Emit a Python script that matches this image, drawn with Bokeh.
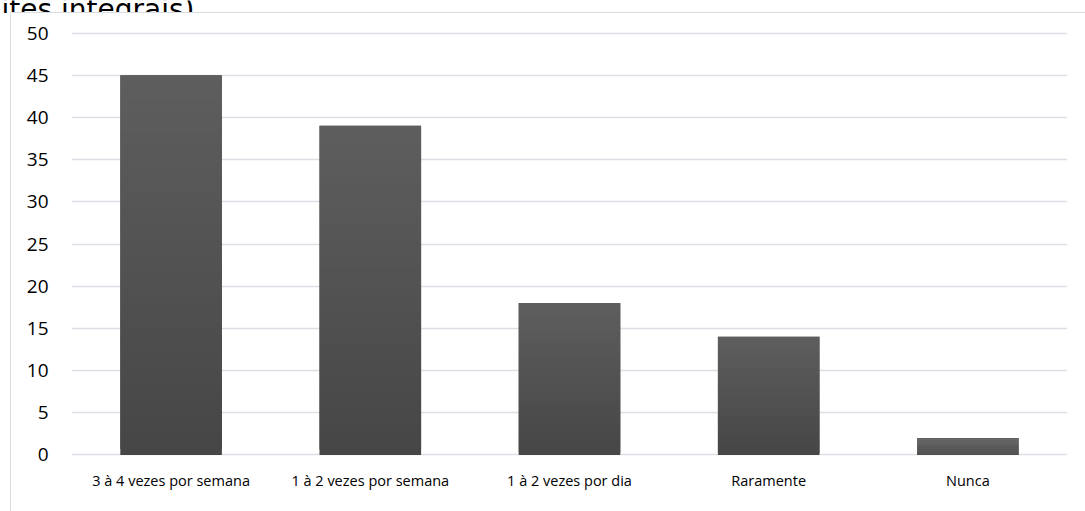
from bokeh.plotting import figure
from bokeh.models import Range1d, FixedTicker
from bokeh.core.properties import value
from bokeh.layouts import column, row
from bokeh.embed import file_html
from bokeh.resources import INLINE

categories = ["3 à 4 vezes por semana", "1 à 2 vezes por semana", "1 à 2 vezes por dia", "Raramente", "Nunca"]
values = [45, 39, 18, 14, 2]
y_ticks = [0, 5, 10, 15, 20, 25, 30, 35, 40, 45, 50]
doc_text = ["ites integrais)."]

W, H = 1085, 511
TOP_H = 13      # strip with the cut-off document text and top border
LEFT_W = 11     # strip with the left border
BORDER = "#d8dde3"
PW = W - LEFT_W
PH = H - TOP_H


def blank(width, height, xr, yr):
    f = figure(width=width, height=height, x_range=Range1d(*xr), y_range=Range1d(*yr),
               x_axis_type=None, y_axis_type=None, output_backend="svg",
               toolbar_location=None, min_border=0, min_border_left=0,
               min_border_right=0, min_border_top=0, min_border_bottom=0)
    f.outline_line_color = None
    f.grid.grid_line_color = None
    f.background_fill_color = "white"
    f.border_fill_color = "white"
    return f


# top strip: document text cut off by the crop, and the top chart border
top = blank(W, TOP_H, (0, W), (TOP_H, 0))
top.text(x=[1], y=[8.5], text=doc_text, text_font=value("DejaVu Sans"),
         text_font_size="28px", text_color="#000000", text_baseline="alphabetic")
top.quad(left=[LEFT_W - 1.5], right=[W], top=[TOP_H - 1.5], bottom=[TOP_H],
         fill_color=BORDER, line_color=None)

# left strip: left chart border
left = blank(LEFT_W, PH, (0, LEFT_W), (0, PH))
left.quad(left=[LEFT_W - 1.5], right=[LEFT_W], bottom=[0], top=[PH],
          fill_color=BORDER, line_color=None)

p = figure(x_range=categories, y_range=Range1d(-0.3, 50.3), width=PW, height=PH,
           output_backend="svg", toolbar_location=None,
           min_border_left=60, min_border_right=18, min_border_top=17,
           min_border_bottom=54)
p.outline_line_color = None
p.background_fill_color = "white"
p.border_fill_color = "white"

# gradient bars built from slices of each value
N = 60
top_col = (0x5e, 0x5e, 0x5e)
bot_col = (0x46, 0x46, 0x46)
for k in range(N):
    t = (k + 0.5) / N
    c = tuple(int(round(bot_col[j] + (top_col[j] - bot_col[j]) * t)) for j in range(3))
    col = "#%02x%02x%02x" % c
    bottoms = [v * k / N for v in values]
    tops = [min(v, v * (k + 2) / N) for v in values]
    p.vbar(x=categories, bottom=bottoms, top=tops, width=0.51, fill_color=col, line_color=None)

p.yaxis.ticker = FixedTicker(ticks=y_ticks)
p.ygrid.ticker = FixedTicker(ticks=y_ticks)
p.xgrid.grid_line_color = None
p.ygrid.grid_line_color = "#dce0e5"
p.ygrid.grid_line_width = 1.6
p.ygrid.level = "underlay"

for ax in (p.xaxis, p.yaxis):
    ax.axis_line_color = None
    ax.major_tick_line_color = None
    ax.minor_tick_line_color = None
    ax.major_label_text_color = "#000000"
p.yaxis.major_label_text_font = "Open Sans"
p.yaxis.major_label_text_font_size = "19px"
p.yaxis.major_label_standoff = 17
p.xaxis.major_label_text_font = "Open Sans"
p.xaxis.major_label_text_font_size = "14.5px"
p.xaxis.major_label_standoff = 7

# nest each strip in its own column so its frame is not aligned with the chart's frame
layout = column(column(top), row(column(left), column(p), spacing=0), spacing=0)

html = file_html(layout, INLINE)
html = html.replace("<head>", "<head><style>html,body{margin:0;padding:0;overflow:hidden}</style>", 1)
open("out.html", "w").write(html)
